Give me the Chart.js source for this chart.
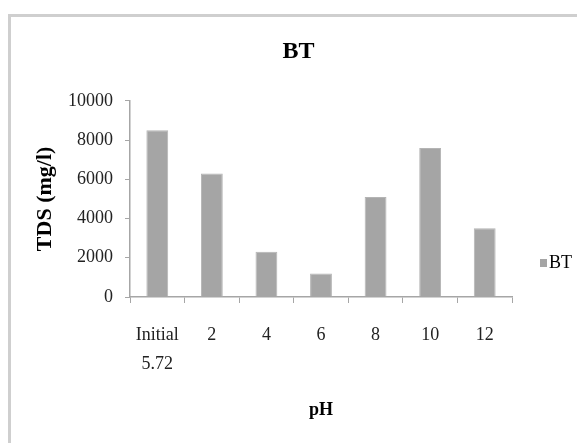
<!DOCTYPE html>
<html>
<head>
<meta charset="utf-8">
<script src="https://cdn.jsdelivr.net/npm/chart.js@4"></script>
<style>
  html, body { margin: 0; padding: 0; background: #fff; overflow: hidden; }
  #wrap { position: relative; width: 577px; height: 443px; }
  #frame { position: absolute; left: 8px; top: 14px; width: 600px; height: 460px;
           border-left: 3px solid #cfcfcf; border-top: 3px solid #cfcfcf; }
  canvas { position: absolute; left: 0; top: 0; }
</style>
</head>
<body>
<div id="wrap">
  <div id="frame"></div>
  <canvas id="graphique" width="577" height="443"></canvas>
</div>
<script>
// valeurs
var categories = [['Initial', '5.72'], '2', '4', '6', '8', '10', '12'];
var valeursBT = [8500, 6300, 2300, 1200, 5100, 7600, 3500];
var ticksY = [0, 2000, 4000, 6000, 8000, 10000];

var serif = "'Liberation Serif', 'Times New Roman', serif";
var gris = '#a6a6a6';

// légende dessinée à droite, sous le milieu du graphique (comme Excel)
var legendeDroite = {
  id: 'legendeDroite',
  afterDraw: function(chart) {
    var c = chart.ctx;
    var area = chart.chartArea;
    var ds = chart.data.datasets[0];
    var x = area.right + 28;
    var y = area.bottom - 34;
    c.save();
    c.fillStyle = ds.backgroundColor;
    c.fillRect(x, y - 4, 7, 8);
    c.fillStyle = '#000';
    c.font = '18px ' + serif;
    c.textBaseline = 'middle';
    c.textAlign = 'left';
    c.fillText(ds.label, x + 9, y);
    c.restore();
  }
};

document.addEventListener('DOMContentLoaded', function() {
  var ctx = document.getElementById('graphique').getContext('2d');
  var chart = new Chart(ctx, {
    type: 'bar',
    data: {
      labels: categories,
      datasets: [{
        label: 'BT',
        data: valeursBT,
        backgroundColor: '#a5a5a5',
        borderColor: '#b4b4b4',
        borderWidth: 1,
        barPercentage: 0.4,
        categoryPercentage: 1
      }]
    },
    plugins: [legendeDroite],
    options: {
      responsive: false,
      animation: false,
      layout: { padding: { left: 20, right: 0, top: 20, bottom: 14 } },
      plugins: {
        tooltip: { enabled: false },
        legend: { display: false },
        title: {
          display: true,
          text: 'BT',
          color: '#000',
          font: { family: serif, size: 24, weight: 'bold' },
          padding: { top: 17, bottom: 35 }
        }
      },
      scales: {
        x: {
          grid: { display: true, drawOnChartArea: false, color: gris, tickLength: 6, offset: true },
          border: { display: true, color: gris, width: 1.5 },
          ticks: {
            color: '#222',
            padding: 18,
            maxRotation: 0,
            font: { family: serif, size: 18, lineHeight: 1.6 }
          },
          title: {
            display: true,
            text: 'pH',
            color: '#000',
            font: { family: serif, size: 18, weight: 'bold' },
            padding: { top: 0, bottom: 8 }
          },
          afterFit: function(scale) { scale.height = 132; }
        },
        y: {
          min: 0,
          max: 10000,
          afterBuildTicks: function(scale) {
            scale.ticks = ticksY.map(function(v) { return { value: v }; });
          },
          grid: { display: true, drawOnChartArea: false, color: gris, tickLength: 5 },
          border: { display: true, color: gris, width: 1.5 },
          ticks: {
            color: '#222',
            padding: 12,
            font: { family: serif, size: 18 },
            callback: function(value) { return String(value); }
          },
          title: {
            display: true,
            text: 'TDS (mg/l)',
            color: '#000',
            font: { family: serif, size: 22, weight: 'bold' },
            padding: { top: 12, bottom: 0 }
          },
          afterFit: function(scale) { scale.width = 110; }
        },
        // axe vide à droite : réserve la place de la légende
        marge: {
          type: 'linear',
          position: 'right',
          grid: { display: false },
          border: { display: false },
          ticks: { display: false },
          afterFit: function(scale) { scale.width = 65; }
        }
      }
    }
  });
});
</script>
</body>
</html>
